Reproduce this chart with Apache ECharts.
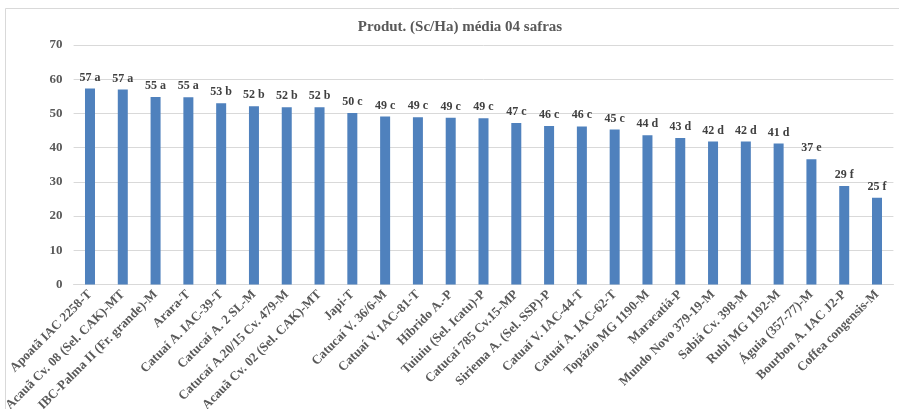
<!DOCTYPE html>
<html>
<head>
<meta charset="utf-8">
<script src="https://cdn.jsdelivr.net/npm/echarts@6/dist/echarts.min.js"></script>
<style>
  html, body { margin: 0; padding: 0; background: #fff; }
  #chart { width: 899px; height: 409px; }
</style>
</head>
<body>
<div id="chart"></div>
<script>
// Cultivares avaliadas
const categories = [
  'Apoatã IAC 2258-T', 'Acauã Cv. 08 (Sel. CAK)-MT', 'IBC-Palma II (Fr. grande)-M', 'Arara-T',
  'Catuaí A. IAC-39-T', 'Catucaí A. 2 SL-M', 'Catucaí A.20/15 Cv. 479-M', 'Acauã Cv. 02 (Sel. CAK)-MT',
  'Japi-T', 'Catucaí V. 36/6-M', 'Catuaí V. IAC-81-T', 'Híbrido A.-P', 'Tuiuiu (Sel. Icatu)-P',
  'Catucaí 785 Cv.15-MP', 'Siriema A. (Sel. SSP)-P', 'Catuaí V. IAC-44-T', 'Catuaí A. IAC-62-T',
  'Topázio MG 1190-M', 'Maracatiá-P', 'Mundo Novo 379-19-M', 'Sabiá Cv. 398-M', 'Rubi MG 1192-M',
  'Águia (357-77)-M', 'Bourbon A. IAC J2-P', 'Coffea congensis-M'
];

// Produtividade média (sacas/ha)
const produtividade = [
  57.3, 57.0, 54.8, 54.7, 53.0, 52.1, 51.8, 51.8, 50.1, 49.1, 48.9, 48.7, 48.6,
  47.2, 46.3, 46.2, 45.3, 43.6, 42.8, 41.8, 41.8, 41.2, 36.6, 28.8, 25.3
];

// Letras do teste de médias
const letras = [
  'a', 'a', 'a', 'a', 'b', 'b', 'b', 'b', 'c', 'c', 'c', 'c', 'c',
  'c', 'c', 'c', 'c', 'd', 'd', 'd', 'd', 'd', 'e', 'f', 'f'
];

const yTicks = [0, 10, 20, 30, 40, 50, 60, 70];

const textColor = '#595959';
const serif = '"Liberation Serif", "Times New Roman", serif';

const chart = echarts.init(document.getElementById('chart'));
chart.setOption({
  backgroundColor: '#ffffff',
  animation: false,
  title: {
    text: 'Produt. (Sc/Ha) média 04 safras',
    left: 455,
    textAlign: 'center',
    top: 15,
    textStyle: { fontFamily: serif, fontWeight: 'bold', fontSize: 15, color: textColor }
  },
  graphic: [{
    type: 'rect',
    shape: { x: 5.5, y: 8.5, width: 900, height: 420 },
    style: { fill: 'none', stroke: '#D9D9D9', lineWidth: 1 },
    silent: true
  }],
  grid: {
    left: 73.6, right: 5.6, top: 45, bottom: 124.6,
    containLabel: false, outerBoundsMode: 'none'
  },
  xAxis: {
    type: 'category',
    data: categories,
    axisTick: { show: false },
    axisLine: { lineStyle: { color: '#D9D9D9' } },
    axisLabel: {
      interval: 0, rotate: 45, margin: 8,
      fontFamily: serif, fontWeight: 'bold', fontSize: 13, color: textColor
    }
  },
  yAxis: {
    type: 'value',
    min: yTicks[0], max: yTicks[yTicks.length - 1], interval: 10,
    axisLine: { show: false },
    axisTick: { show: false },
    splitLine: { lineStyle: { color: '#D9D9D9' } },
    axisLabel: {
      margin: 11,
      fontFamily: serif, fontWeight: 'bold', fontSize: 13, color: textColor
    }
  },
  series: [{
    type: 'bar',
    data: produtividade,
    barWidth: 10,
    itemStyle: { color: '#4F81BD' },
    label: {
      show: true, position: 'top', distance: 5,
      fontFamily: serif, fontWeight: 'bold', fontSize: 12, color: '#404040',
      formatter: p => Math.round(p.value) + ' ' + letras[p.dataIndex]
    }
  }]
});
</script>
</body>
</html>
